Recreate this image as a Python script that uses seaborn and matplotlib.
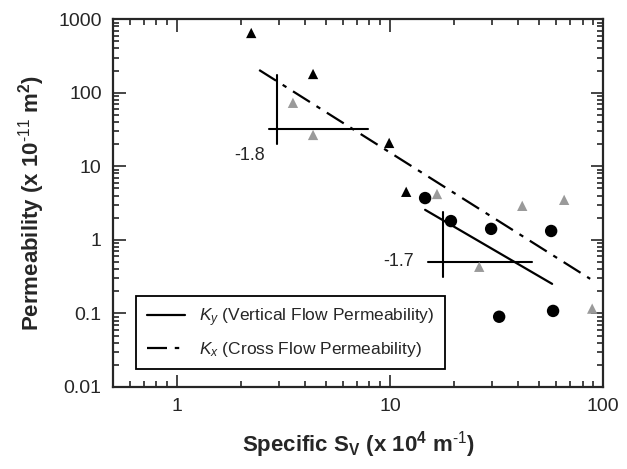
import numpy as np
import pandas as pd
import matplotlib
matplotlib.use("Agg")
import matplotlib.pyplot as plt
import matplotlib.ticker as mticker
import seaborn as sns

# Measured permeability data
ky_tri_x = [2.23, 4.35, 9.9, 11.9]
ky_tri_y = [650, 180, 20.8, 4.5]
kx_tri_x = [3.5, 4.35, 16.6, 41.7, 65.6, 26.2, 88.8]
kx_tri_y = [73, 26.7, 4.2, 2.9, 3.5, 0.43, 0.116]
ky_dot_x = [14.6, 19.3, 29.8, 57.0, 32.5, 58.2]
ky_dot_y = [3.7, 1.8, 1.41, 1.32, 0.09, 0.108]

# Power-law fits (endpoints of the drawn fit lines)
fit_ky_x = [14.6, 57.6]
fit_ky_y = [2.56, 0.252]
fit_kx_x = [2.43, 86.9]
fit_kx_y = [204, 0.295]

# Slope indicators: (vertical x, y0, y1), (horizontal y, x0, x1)
slope1_v = [2.95, 175, 20]
slope1_h = [32, 2.7, 7.9]
slope2_v = [17.7, 2.4, 0.31]
slope2_h = [0.50, 15.1, 46.4]
slope_labels = ["-1.8", "-1.7"]

sns.set_style("ticks")
plt.rcParams["font.family"] = ["Liberation Sans", "DejaVu Sans"]
plt.rcParams["mathtext.fontset"] = "custom"
plt.rcParams["mathtext.rm"] = "Liberation Sans"
plt.rcParams["mathtext.it"] = "Liberation Sans:italic"
plt.rcParams["mathtext.bf"] = "Liberation Sans:bold"
plt.rcParams["axes.unicode_minus"] = False

fig = plt.figure(figsize=(6.27, 4.69), dpi=100)
ax = fig.add_axes([0.180, 0.175, 0.782, 0.784])

gray = "#9a9a9a"
sns.scatterplot(x=ky_tri_x, y=ky_tri_y, marker="^", s=55, color="black",
                edgecolor="none", ax=ax, zorder=3)
sns.scatterplot(x=kx_tri_x, y=kx_tri_y, marker="^", s=55, color=gray,
                edgecolor="none", ax=ax, zorder=3)
sns.scatterplot(x=ky_dot_x, y=ky_dot_y, marker="o", s=80, color="black",
                edgecolor="none", ax=ax, zorder=3)

sns.lineplot(x=fit_ky_x, y=fit_ky_y, color="black", lw=1.6, ax=ax,
             label=r"$K_y$ (Vertical Flow Permeability)")
sns.lineplot(x=fit_kx_x, y=fit_kx_y, color="black", lw=1.6, ax=ax,
             linestyle=(0, (9, 3.5, 2, 3.5)),
             label=r"$K_x$ (Cross Flow Permeability)")

for v, h in [(slope1_v, slope1_h), (slope2_v, slope2_h)]:
    ax.plot([v[0], v[0]], [v[1], v[2]], color="black", lw=1.5)
    ax.plot([h[1], h[2]], [h[0], h[0]], color="black", lw=1.5)

ax.text(2.2, 14, slope_labels[0], fontsize=13, ha="center", va="center")
ax.text(10.9, 0.50, slope_labels[1], fontsize=13, ha="center", va="center")

ax.set_xscale("log")
ax.set_yscale("log")
ax.set_xlim(0.5, 100)
ax.set_ylim(0.01, 1000)

ax.xaxis.set_major_locator(mticker.FixedLocator([1, 10, 100]))
ax.xaxis.set_major_formatter(mticker.FixedFormatter(["1", "10", "100"]))
ax.yaxis.set_major_locator(mticker.FixedLocator([0.01, 0.1, 1, 10, 100, 1000]))
ax.yaxis.set_major_formatter(mticker.FixedFormatter(["0.01", "0.1", "1", "10", "100", "1000"]))
ax.xaxis.set_minor_locator(mticker.LogLocator(subs=np.arange(2, 10), numticks=20))
ax.yaxis.set_minor_locator(mticker.LogLocator(subs=np.arange(2, 10), numticks=20))
ax.xaxis.set_minor_formatter(mticker.NullFormatter())
ax.yaxis.set_minor_formatter(mticker.NullFormatter())

ax.tick_params(which="both", direction="in", top=True, right=True, width=1.2)
ax.tick_params(which="major", length=9, labelsize=14, pad=8)
ax.tick_params(which="minor", length=4)
for sp in ax.spines.values():
    sp.set_linewidth(1.6)
    sp.set_visible(True)

ax.set_xlabel(r"Specific S$_\mathregular{V}$ (x 10$^\mathregular{4}$ m$^{\text{-1}}$)",
              fontsize=16, fontweight="bold", labelpad=10)
ax.set_ylabel(r"Permeability (x 10$^{\text{-11}}$ m$^\mathregular{2}$)",
              fontsize=16, fontweight="bold", labelpad=8)

leg = ax.legend(loc="lower left", bbox_to_anchor=(0.03, 0.025), fontsize=12.5,
                frameon=True, fancybox=False, edgecolor="black", framealpha=1,
                handlelength=2.2, borderpad=0.6, labelspacing=0.6)
leg.get_frame().set_linewidth(1.3)

fig.savefig("out.png", dpi=100)
